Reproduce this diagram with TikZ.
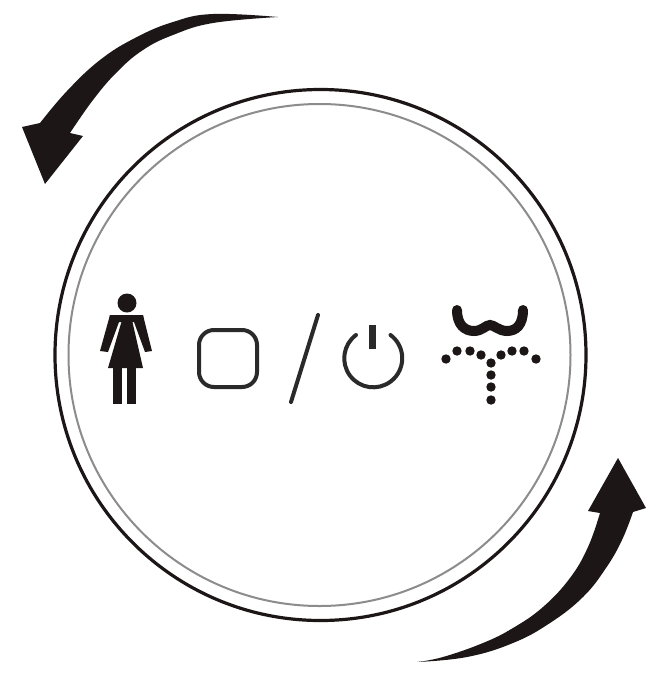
\documentclass[tikz,border=0pt]{standalone}
\definecolor{ink}{HTML}{1C1616}
\definecolor{linegray}{HTML}{2A2A2A}
\tikzset{
  bigarrow/.style={fill=ink,draw=none},
  outerring/.style={draw=ink,line width=3.2pt},
  innerring/.style={draw=black!45,line width=2pt},
  glyph/.style={draw=linegray,line width=4pt,line cap=round},
  solidglyph/.style={fill=ink,draw=none},
  dotmark/.style={fill=ink,draw=none}
}
\begin{document}
\begin{tikzpicture}[x=1pt,y=-1pt]
\useasboundingbox[fill=white] (0,0) rectangle (646,673);
% rings
\draw[outerring] (320.5,355) circle (265.5);
\draw[innerring] (319.5,355) circle (251);
% top-left arrow
\path[bigarrow] plot[smooth,tension=0.7] coordinates {(278,17) (213,14) (173,22) (135,38) (100,60) (67,91) (40,123)}
  -- (22,127) -- (45,184) -- (83,136) -- (70,133)
  -- plot[smooth,tension=0.7] coordinates {(70,133) (93,100) (117,72) (143,50) (173,35) (213,23) (278,17)} -- cycle;
% bottom-right arrow
\path[bigarrow] plot[smooth,tension=0.7] coordinates {(417,662) (467,657) (513,643) (550,623) (583,597) (606,568) (622,540) (633,512)}
  -- (646,508) -- (618,458) -- (588,511) -- (600,513)
  -- plot[smooth,tension=0.7] coordinates {(600,513) (588,547) (570,578) (543,607) (513,628) (483,643) (443,657) (417,662)} -- cycle;
% person
\fill[solidglyph] (127,303) circle (9.5);
\path[solidglyph] (110,315) -- (143,315) -- (144,322) -- (109,322) -- cycle;
\path[solidglyph] (110,315) -- (119,322) -- (108,352) -- (100,351) -- cycle;
\path[solidglyph] (143,315) -- (134,322) -- (145,352) -- (152,351) -- cycle;
\path[solidglyph] (122,320) -- (132,320) -- (143,368) -- (108,368) -- cycle;
\path[solidglyph] (113,366) rectangle (122,404);
\path[solidglyph] (127,366) rectangle (136,404);
% stop square
\draw[glyph,rounded corners=15pt] (199,330) rectangle (257,387);
% slash
\draw[glyph] (318,315) -- (291,402);
% power
\draw[glyph] (356,335) arc[start angle=233.5,end angle=-53.5,radius=29];
\draw[glyph,line width=6.5pt,line cap=butt] (372.7,325) -- (372.7,349);
% moustache
\draw[glyph,draw=ink,line width=10pt] (457,310) .. controls (457,325) and (465,331) .. (474,331)
  .. controls (482,331) and (486,325) .. (490,325)
  .. controls (494,325) and (499,331) .. (507,331)
  .. controls (516,331) and (523,325) .. (523,310);
% dots
\foreach \px/\py in {446/359,457/351,470/351,481/355,491/363,501/355,512/351,524/351,536/359,491/375,491/387,491/400}
  \fill[dotmark] (\px,\py) circle (4.7);
\end{tikzpicture}
\end{document}
